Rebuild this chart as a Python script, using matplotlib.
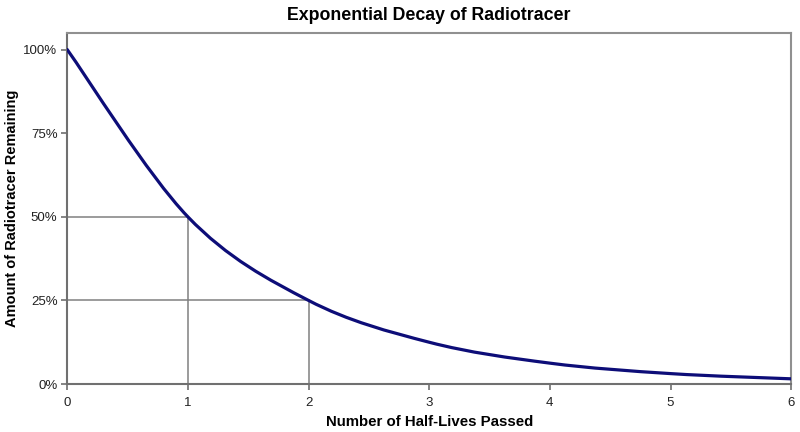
import matplotlib
matplotlib.use('Agg')
import matplotlib.pyplot as plt
from matplotlib.path import Path
from matplotlib.patches import PathPatch
from matplotlib.ticker import PercentFormatter

plt.rcParams['font.family'] = ['Liberation Sans', 'DejaVu Sans']

half_lives = [0, 1, 2, 3, 4, 5, 6]
remaining = [100, 50, 25, 12.5, 6.25, 3.125, 1.5625]
marker_x = [1, 2]
marker_y = [50, 25]
x_ticks = [0, 1, 2, 3, 4, 5, 6]
y_ticks = [0, 25, 50, 75, 100]


def smooth_path(xs, ys):
    # Excel-style smoothed line: cubic Bezier segments, Catmull-Rom control points
    pts = list(zip(xs, ys))
    verts = [pts[0]]
    codes = [Path.MOVETO]
    for i in range(len(pts) - 1):
        p0 = pts[i - 1] if i > 0 else pts[i]
        p1 = pts[i]
        p2 = pts[i + 1]
        p3 = pts[i + 2] if i + 2 < len(pts) else pts[i + 1]
        c1 = (p1[0] + (p2[0] - p0[0]) / 6, p1[1] + (p2[1] - p0[1]) / 6)
        c2 = (p2[0] - (p3[0] - p1[0]) / 6, p2[1] - (p3[1] - p1[1]) / 6)
        verts += [c1, c2, p2]
        codes += [Path.CURVE4] * 3
    return Path(verts, codes)


fig = plt.figure(figsize=(8, 4.32), dpi=100)
ax = fig.add_axes([0.084, 0.111, 0.905, 0.813])

for mx, my in zip(marker_x, marker_y):
    ax.plot([0, mx, mx], [my, my, 0], color='#808080', linewidth=1.1, zorder=2)

ax.add_patch(PathPatch(smooth_path(half_lives, remaining), facecolor='none',
                       edgecolor='#0d0d78', linewidth=2.3, zorder=3,
                       capstyle='round'))

ax.set_xlim(0, 6)
ax.set_ylim(0, 105)
ax.set_xticks(x_ticks)
ax.set_yticks(y_ticks)
ax.yaxis.set_major_formatter(PercentFormatter(decimals=0))

for side in ['left', 'bottom']:
    ax.spines[side].set_color('#707070')
    ax.spines[side].set_linewidth(1.5)
for side in ['top', 'right']:
    ax.spines[side].set_color('#909090')
    ax.spines[side].set_linewidth(1.5)

ax.tick_params(axis='both', direction='out', length=4, width=1.2,
               color='#707070', labelsize=9.5, labelcolor='#222222')
ax.tick_params(axis='x', pad=5)
ax.tick_params(axis='y', pad=3)

ax.set_title('Exponential Decay of Radiotracer', fontsize=12.8, fontweight='bold',
             pad=9)
ax.set_xlabel('Number of Half-Lives Passed', fontsize=10.8, fontweight='bold',
              va='center')
ax.set_ylabel('Amount of Radiotracer Remaining', fontsize=10.5, fontweight='bold',
              va='center')
ax.xaxis.set_label_coords(0.5, -0.108)
ax.yaxis.set_label_coords(-0.076, 0.5)

fig.savefig('out.png', dpi=100)
plt.close(fig)
